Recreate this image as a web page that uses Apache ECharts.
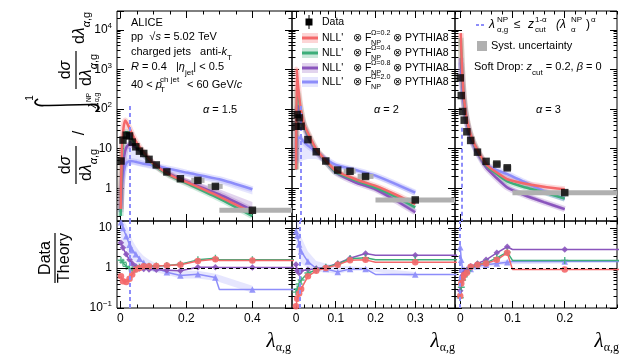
<!DOCTYPE html>
<html>
<head>
<meta charset="utf-8">
<script src="https://cdn.jsdelivr.net/npm/echarts@6/dist/echarts.min.js"></script>
<style>
html, body { margin: 0; padding: 0; background: #fff; }
#chart { width: 630px; height: 361px; }
</style>
</head>
<body>
<div id="chart"></div>
<script>
// ---------- data: alpha = 1.5 ----------
var xData15 = [0.002, 0.008, 0.018, 0.028, 0.036, 0.047, 0.058, 0.071, 0.087, 0.109, 0.141, 0.182, 0.235, 0.288, 0.4];
var yData15 = [4.9, 16.5, 22, 21, 14.7, 11.2, 8.7, 7.6, 5.4, 3.9, 2.6, 1.75, 1.59, 1.12, 0.28];
var xTh15 = [0.001, 0.005, 0.01, 0.015, 0.02, 0.03, 0.04, 0.05, 0.07, 0.1, 0.15, 0.2, 0.3, 0.4];
var red15 = [0.3, 10, 35, 52, 45, 30, 20, 14, 8.2, 4.2, 2.2, 1.45, 0.62, 0.24];
var green15 = [0.2, 6, 20, 26, 26, 22, 16, 12, 7.5, 4.0, 2.1, 1.35, 0.55, 0.2];
var purple15 = [0.25, 1.5, 5, 9, 11.5, 12.8, 12, 10.5, 7.2, 4.2, 2.3, 1.5, 0.7, 0.28];
var blue15 = [0.3, 1.2, 2.5, 3.8, 4.5, 4.9, 4.8, 4.6, 4.2, 3.8, 3.1, 2.5, 1.7, 0.95];
var blueLo15 = [0.2, 0.9, 1.8, 2.8, 3.4, 3.9, 3.9, 3.7, 3.4, 3.0, 2.5, 1.95, 1.3, 0.7];
var blueHi15 = [0.4, 2.5, 6, 9, 10.5, 11, 10, 8.5, 6.5, 4.5, 3.3, 2.6, 1.75, 1.0];
var purpleLo15 = [0.2, 1.2, 4, 7.5, 9.5, 10.8, 10.5, 9.5, 6.6, 3.9, 2.1, 1.35, 0.6, 0.24];
var purpleHi15 = [0.3, 2, 6, 11, 14, 15, 14, 12, 8, 4.6, 2.6, 1.75, 0.95, 0.45];
var ratioRed15 = [0.62, 0.47, 0.45, 0.54, 0.69, 0.92, 1.0, 1.1, 1.1, 1.12, 1.15, 1.2, 1.5, 1.65, 1.55];
var ratioGreen15 = [1.57, 1.4, 1.1, 0.97, 0.9, 0.95, 1.05, 1.1, 1.1, 1.12, 1.15, 1.25, 1.6, 1.75, 1.6];
var ratioPurple15 = [4.3, 3.2, 2.2, 1.6, 1.3, 1.1, 0.97, 0.95, 0.92, 0.9, 0.88, 0.85, 1.05, 1.05, 1.03];
var ratioBlue15 = [14, 10, 6.2, 3.8, 2.8, 2.2, 1.7, 1.35, 1.1, 1.0, 0.78, 0.65, 0.7, 0.58, 0.29];
var ratioBlueLo15 = [6, 4, 3, 2, 1.6, 1.4, 1.2, 1.0, 0.85, 0.78, 0.68, 0.55, 0.55, 0.48, 0.24];
var ratioBlueHi15 = [16, 16, 12, 8, 5, 3.5, 2.6, 2, 1.6, 1.3, 1.0, 0.85, 0.85, 0.72, 0.36];
var sysX0_15 = [0.215, 0.265, 0.3];
var sysX1_15 = [0.255, 0.31, 0.6];
var sysY15 = [1.59, 1.12, 0.28];

// ---------- data: alpha = 2 ----------
var xData2 = [0.0, 0.003, 0.008, 0.013, 0.03, 0.051, 0.075, 0.105, 0.136, 0.175, 0.30];
var yData2 = [37, 73, 60, 37, 17, 8.4, 4.9, 2.9, 2.7, 2.0, 0.51];
var xTh2 = [0.0005, 0.002, 0.005, 0.01, 0.015, 0.02, 0.03, 0.05, 0.075, 0.1, 0.15, 0.2, 0.25, 0.3];
var red2 = [3, 1000, 420, 140, 70, 42, 25, 10, 5.0, 2.8, 1.7, 1.15, 0.7, 0.4];
var green2 = [3, 300, 250, 120, 65, 40, 23, 9.5, 4.8, 2.6, 1.6, 1.05, 0.62, 0.33];
var purple2 = [5, 100, 120, 80, 55, 38, 20, 8.7, 4.7, 2.5, 1.4, 0.95, 0.5, 0.25];
var blue2 = [4.5, 12, 19, 19, 17, 15, 12, 8.5, 5.5, 3.9, 2.9, 2.1, 1.3, 0.78];
var blueLo2 = [2, 3, 4, 4.5, 5, 5.2, 5.5, 5.5, 4.5, 3.4, 2.5, 1.8, 1.1, 0.65];
var blueHi2 = [6, 15, 22, 22, 20, 18, 14, 9.5, 6.2, 4.3, 3.2, 2.3, 1.45, 0.9];
var purpleLo2 = [4, 80, 100, 70, 48, 33, 17.5, 7.8, 4.3, 2.3, 1.3, 0.85, 0.45, 0.22];
var purpleHi2 = [6, 120, 140, 92, 62, 43, 23, 9.8, 5.2, 2.8, 1.6, 1.1, 0.6, 0.32];
var ratioRed2 = [0.11, 0.17, 0.23, 0.3, 0.62, 0.85, 1.0, 1.2, 1.57, 1.6, 1.4];
var ratioGreen2 = [0.25, 0.3, 0.4, 0.5, 0.75, 0.9, 1.05, 1.25, 1.7, 1.8, 1.6];
var ratioPurple2 = [1.22, 0.85, 0.75, 0.85, 0.9, 0.97, 1.05, 1.3, 1.75, 2.3, 2.1];
var ratioBlue2 = [8.3, 6.5, 3.9, 2.6, 1.45, 0.97, 0.95, 0.8, 0.95, 0.95, 0.69];
var ratioBlueLo2 = [4, 3, 2, 1.3, 1.0, 0.8, 0.8, 0.7, 0.85, 0.85, 0.6];
var ratioBlueHi2 = [16, 16, 12, 6, 2.6, 1.5, 1.3, 1.1, 1.1, 1.05, 0.8];
var sysX0_2 = [0.12, 0.155, 0.2];
var sysX1_2 = [0.15, 0.195, 0.45];
var sysY2 = [2.7, 2.0, 0.51];

// ---------- data: alpha = 3 ----------
var xData3 = [0.0, 0.002, 0.0045, 0.0076, 0.0127, 0.020, 0.033, 0.0495, 0.07, 0.09, 0.2];
var yData3 = [615, 220, 87, 52.6, 26.8, 16.2, 8.2, 4.8, 4.1, 3.3, 0.78];
var xTh3 = [0.001, 0.003, 0.006, 0.01, 0.015, 0.02, 0.03, 0.05, 0.07, 0.09, 0.12, 0.16, 0.2];
var red3 = [8300, 1500, 300, 90, 40, 23, 11, 4.0, 2.5, 1.7, 1.35, 1.1, 0.95];
var green3 = [6300, 1300, 280, 85, 38, 22, 10.5, 3.8, 2.3, 1.5, 1.1, 0.8, 0.55];
var purple3 = [1950, 700, 200, 75, 33, 19, 9.5, 3.3, 1.8, 1.05, 0.7, 0.45, 0.3];
var blue3 = [1500, 600, 180, 70, 34, 19, 9.5, 4.0, 2.9, 2.3, 1.5, 0.85, 0.55];
var blueLo3 = [1300, 520, 160, 63, 30, 17, 8.5, 3.4, 2.3, 1.7, 1.15, 0.7, 0.47];
var blueHi3 = [1700, 680, 200, 77, 38, 21, 10.5, 4.3, 3.1, 2.5, 1.65, 0.95, 0.62];
var purpleLo3 = [1700, 620, 180, 68, 30, 17, 8.6, 3.0, 1.6, 0.95, 0.63, 0.41, 0.27];
var purpleHi3 = [2200, 780, 220, 82, 36, 21, 10.5, 3.6, 2.0, 1.2, 0.8, 0.5, 0.33];
var ratioRed3 = [0.2, 0.41, 0.55, 0.67, 0.76, 1.07, 1.2, 1.3, 1.6, 2.4, 0.92];
var ratioGreen3 = [0.18, 0.33, 0.5, 0.6, 0.75, 1.0, 1.2, 1.35, 1.8, 2.5, 1.55];
var ratioPurple3 = [0.27, 0.5, 0.65, 0.75, 0.9, 1.1, 1.3, 1.6, 2.4, 3.4, 2.9];
var ratioBlue3 = [3.3, 1.6, 0.95, 0.9, 0.85, 0.95, 1.1, 1.2, 1.3, 1.4, 1.45];
var ratioBlueLo3 = [2.0, 1.1, 0.8, 0.78, 0.75, 0.85, 0.95, 1.05, 1.15, 1.25, 1.3];
var ratioBlueHi3 = [5.0, 2.2, 1.2, 1.05, 1.0, 1.1, 1.25, 1.35, 1.45, 1.6, 1.6];
var sysX0_3 = [0.062, 0.082, 0.1];
var sysX1_3 = [0.078, 0.098, 0.35];
var sysY3 = [4.1, 3.3, 0.78];

// NP cut (vertical dashed lines), last bin edges, labels
var npCut = [0.03, 0.013, 0.003];
var npTop = [120, 120, 34];
var lastBinLo = [0.3, 0.2, 0.1];
var lastBinHi = [0.6, 0.45, 0.35];
var alphaLabels = ['1.5', '2', '3'];
var xLabelTicks = [[0, 0.2, 0.4], [0, 0.1, 0.2, 0.3], [0, 0.1, 0.2]];
var xMinorStep = [0.05, 0.02, 0.02];
var omegaLabels = ['0.2', '0.4', '0.8', '2.0'];

var panels = [
  {xd: xData15, yd: yData15, xt: xTh15, th: [red15, green15, purple15, blue15],
   bLo: blueLo15, bHi: blueHi15, pLo: purpleLo15, pHi: purpleHi15,
   ratio: [ratioRed15, ratioGreen15, ratioPurple15, ratioBlue15], rLo: ratioBlueLo15, rHi: ratioBlueHi15,
   sx0: sysX0_15, sx1: sysX1_15, sy: sysY15},
  {xd: xData2, yd: yData2, xt: xTh2, th: [red2, green2, purple2, blue2],
   bLo: blueLo2, bHi: blueHi2, pLo: purpleLo2, pHi: purpleHi2,
   ratio: [ratioRed2, ratioGreen2, ratioPurple2, ratioBlue2], rLo: ratioBlueLo2, rHi: ratioBlueHi2,
   sx0: sysX0_2, sx1: sysX1_2, sy: sysY2},
  {xd: xData3, yd: yData3, xt: xTh3, th: [red3, green3, purple3, blue3],
   bLo: blueLo3, bHi: blueHi3, pLo: purpleLo3, pHi: purpleHi3,
   ratio: [ratioRed3, ratioGreen3, ratioPurple3, ratioBlue3], rLo: ratioBlueLo3, rHi: ratioBlueHi3,
   sx0: sysX0_3, sx1: sysX1_3, sy: sysY3}
];

// ---------- layout / style ----------
var FONT = "'Liberation Sans', Arial, sans-serif";
var SERIF = "'Liberation Serif', 'DejaVu Serif', serif";
var colors = ['#f4686a', '#3dae7a', '#8a55bd', '#8d8dfa'];
var bands = ['rgba(244,104,106,0.28)', 'rgba(61,174,122,0.28)', 'rgba(138,85,189,0.25)', 'rgba(141,141,250,0.22)'];
var ratioSymbols = ['circle', 'path://M4,0H6V4H10V6H6V10H4V6H0V4H4Z', 'diamond', 'triangle'];
var panelLeft = [117, 292, 455];
var panelWidth = [175, 163, 162];
var xMin = [-0.01, -0.01, -0.01];
var xMax = [0.52, 0.40, 0.30];
var topY = 11, topH = 210, botY = 221, botH = 87;
var yTop = [0.15, 30000], yBot = [0.1, 15];

var myChart = echarts.init(document.getElementById('chart'));

function powLabel(v) {
  var l = Math.log10(v);
  var e = Math.round(l);
  if (Math.abs(l - e) > 1e-6) return '';
  if (e === 0) return '1';
  if (e === 1) return '10';
  return '{b|10}{e|' + (e < 0 ? '\u2212' + (-e) : e) + '}';
}

function minorLogTicks(lo, hi) {
  var out = [];
  for (var k = -2; k <= 5; k++) {
    for (var m = 2; m <= 9; m++) {
      var v = Math.log10(m * Math.pow(10, k));
      if (v > Math.log10(lo) && v < Math.log10(hi)) out.push(v);
    }
  }
  return out;
}

var grids = [], xAxes = [], yAxes = [];
function addGrid(p, isTop) {
  var g = grids.length;
  grids.push({left: panelLeft[p], width: panelWidth[p], top: isTop ? topY : botY, height: isTop ? topH : botH,
    show: true, borderColor: '#000', borderWidth: 1, backgroundColor: 'transparent'});
  var minor = [];
  for (var v = 0; v <= xMax[p] + 1e-9; v += xMinorStep[p]) minor.push(+v.toFixed(3));
  var major = xLabelTicks[p];
  var xb = {type: 'value', gridIndex: g, min: xMin[p], max: xMax[p], splitLine: {show: false},
    axisLine: {show: false, onZero: false}};
  xAxes.push(Object.assign({}, xb, {position: 'bottom',
    axisTick: {inside: true, length: 7, customValues: major, lineStyle: {color: '#000'}},
    axisLabel: {show: !isTop, customValues: major, margin: 5, fontSize: 12, color: '#000', fontFamily: FONT,
      formatter: function (val) { return String(+val.toFixed(2)); }}}));
  xAxes.push(Object.assign({}, xb, {position: 'bottom',
    axisTick: {inside: true, length: 3.5, customValues: minor, lineStyle: {color: '#000'}}, axisLabel: {show: false}}));
  xAxes.push(Object.assign({}, xb, {position: 'top',
    axisTick: {inside: true, length: 7, customValues: major, lineStyle: {color: '#000'}}, axisLabel: {show: false}}));
  xAxes.push(Object.assign({}, xb, {position: 'top',
    axisTick: {inside: true, length: 3.5, customValues: minor, lineStyle: {color: '#000'}}, axisLabel: {show: false}}));

  var yr = isTop ? yTop : yBot;
  var yl = {type: 'log', gridIndex: g, min: yr[0], max: yr[1], splitLine: {show: false},
    axisLine: {show: false, onZero: false}, minorTick: {show: false}};
  var ym = {type: 'value', gridIndex: g, min: Math.log10(yr[0]), max: Math.log10(yr[1]), splitLine: {show: false},
    axisLine: {show: false, onZero: false}, axisLabel: {show: false},
    axisTick: {inside: true, length: 3.5, customValues: minorLogTicks(yr[0], yr[1]), lineStyle: {color: '#000'}}};
  yAxes.push(Object.assign({}, yl, {position: 'left',
    axisTick: {inside: true, length: 7, lineStyle: {color: '#000'}},
    axisLabel: {show: p === 0, margin: 5, color: '#000', fontSize: 12, fontFamily: FONT, formatter: powLabel,
      rich: {b: {fontSize: 12, lineHeight: 16, fontFamily: FONT, color: '#000'},
             e: {fontSize: 8, lineHeight: 8, verticalAlign: 'top', fontFamily: FONT, color: '#000'}}}}));
  yAxes.push(Object.assign({}, ym, {position: 'left'}));
  yAxes.push(Object.assign({}, yl, {position: 'right', axisTick: {inside: true, length: 7, lineStyle: {color: '#000'}},
    axisLabel: {show: false}}));
  yAxes.push(Object.assign({}, ym, {position: 'right'}));
  return g * 4;
}

function bandSeries(ai, xs, lo, hi, color, z) {
  return {
    type: 'custom', xAxisIndex: ai, yAxisIndex: ai, clip: true, silent: true, z: z,
    data: [[xs[0], lo[0]]],
    renderItem: function (params, api) {
      var pts = [];
      for (var i = 0; i < xs.length; i++) pts.push(api.coord([xs[i], hi[i]]));
      for (var j = xs.length - 1; j >= 0; j--) pts.push(api.coord([xs[j], lo[j]]));
      return {type: 'polygon', shape: {points: pts}, style: {fill: color}};
    }
  };
}

function zip(xs, ys) { return xs.map(function (v, i) { return [v, ys[i]]; }); }

var series = [];
panels.forEach(function (d, p) {
  var at = addGrid(p, true);
  series.push(bandSeries(at, d.xt, d.bLo, d.bHi, bands[3], 1));
  series.push(bandSeries(at, d.xt, d.pLo, d.pHi, bands[2], 1));
  [3, 2, 1, 0].forEach(function (c) {
    series.push({type: 'line', xAxisIndex: at, yAxisIndex: at, data: zip(d.xt, d.th[c]), showSymbol: false,
      smooth: 0.2, silent: true, z: 2, lineStyle: {color: colors[c], width: 6, opacity: 0.25}});
  });
  [3, 2, 1, 0].forEach(function (c) {
    series.push({type: 'line', xAxisIndex: at, yAxisIndex: at, data: zip(d.xt, d.th[c]), showSymbol: false,
      smooth: 0.2, silent: true, z: 3, lineStyle: {color: colors[c], width: 2.5}});
  });
  series.push({
    type: 'custom', xAxisIndex: at, yAxisIndex: at, clip: true, silent: true, z: 4,
    data: d.sx0.map(function (v, i) { return [v, d.sx1[i], d.sy[i]]; }),
    encode: {x: [0, 1], y: 2},
    renderItem: function (params, api) {
      var a = api.coord([api.value(0), api.value(2)]);
      var b = api.coord([api.value(1), api.value(2)]);
      return {type: 'rect', shape: {x: a[0], y: a[1] - 2.5, width: b[0] - a[0], height: 5}, style: {fill: '#b0b0b0'}};
    }
  });
  series.push({type: 'scatter', xAxisIndex: at, yAxisIndex: at, data: zip(d.xd, d.yd), symbol: 'rect',
    symbolSize: 7.5, itemStyle: {color: '#000'}, z: 6, silent: true,
    markLine: {silent: true, symbol: ['none', 'none'], label: {show: false},
      lineStyle: {color: colors[3], width: 2, type: [4, 3]},
      data: [[{coord: [npCut[p], npTop[p]]}, {coord: [npCut[p], yTop[0]]}]]}});
});
panels.forEach(function (d, p) {
  var ab = addGrid(p, false);
  series.push(bandSeries(ab, d.xd, d.rLo, d.rHi, bands[3], 1));
  [3, 2, 1, 0].forEach(function (c) {
    var r = d.ratio[c];
    var n = r.length;
    var pts = zip(d.xd, r).slice(0, n - 1);
    pts.push([lastBinLo[p], r[n - 1]], [d.xd[n - 1], r[n - 1]], [lastBinHi[p], r[n - 1]]);
    series.push({type: 'line', xAxisIndex: ab, yAxisIndex: ab, data: pts, showSymbol: false, silent: true, z: 3,
      lineStyle: {color: colors[c], width: 1.5}});
    series.push({type: 'scatter', xAxisIndex: ab, yAxisIndex: ab, data: zip(d.xd, r), symbol: ratioSymbols[c],
      symbolSize: c === 1 ? 7 : 6.5, itemStyle: {color: colors[c], opacity: 0.9}, z: 4, silent: true});
  });
  series.push({type: 'line', xAxisIndex: ab, yAxisIndex: ab, data: [], silent: true, z: 5,
    markLine: {silent: true, symbol: ['none', 'none'], label: {show: false},
      data: [
        {yAxis: 1, lineStyle: {color: '#000', width: 1, type: [4, 3]}},
        {xAxis: npCut[p], lineStyle: {color: colors[3], width: 2, type: [4, 3]}}
      ]}});
});

// ---------- texts ----------
function rich(s) {
  var ss = Math.round(s * 0.7);
  return {
    n: {fontSize: s, lineHeight: s + 8, fontFamily: FONT, color: '#000'},
    i: {fontSize: s, lineHeight: s + 8, fontFamily: FONT, fontStyle: 'italic', color: '#000'},
    sb: {fontSize: ss, lineHeight: ss, verticalAlign: 'bottom', fontFamily: FONT, color: '#000'},
    sbi: {fontSize: ss, lineHeight: ss, verticalAlign: 'bottom', fontFamily: FONT, fontStyle: 'italic', color: '#000'},
    sp: {fontSize: ss, lineHeight: ss, verticalAlign: 'top', fontFamily: FONT, color: '#000'}
  };
}
function T(x, y, text, size, align, italic) {
  size = size || 11;
  return {type: 'text', x: x, y: y, silent: true, z: 100,
    style: {text: text, fontSize: size, fontFamily: FONT, fontStyle: italic ? 'italic' : 'normal', fill: '#000',
      align: align || 'left', verticalAlign: 'middle', rich: rich(size)}};
}

var graphics = [];
// panel 1 caption
graphics.push(T(131, 23, 'ALICE'));
graphics.push(T(131, 37, '{n|pp  \u221A}{i|s}{n| = 5.02 TeV}'));
graphics.push(T(131, 52, '{n|charged jets   anti-}{i|k}{sb|T}'));
graphics.push(T(131, 67, '{i|R}{n| = 0.4   |}{i|\u03B7}{sb|jet}{n|| < 0.5}'));
graphics.push(T(131, 85, '{n|40 < }{i|p}'));
graphics.push(T(160, 80, 'ch jet', 8));
graphics.push(T(160, 90, 'T', 8));
graphics.push(T(187, 85, '{n|< 60 GeV/}{i|c}'));
// alpha labels
var alphaX = [203, 374, 536];
alphaLabels.forEach(function (a, p) {
  graphics.push(T(alphaX[p], 110, '{i|\u03B1}{n| = ' + a + '}'));
});
// legend panel 2
graphics.push({type: 'rect', shape: {x: 305.5, y: 18.5, width: 7, height: 7}, style: {fill: '#000'}, z: 100});
graphics.push({type: 'line', shape: {x1: 309, y1: 15, x2: 309, y2: 29}, style: {stroke: '#000', lineWidth: 1}, z: 100});
graphics.push(T(322, 22, 'Data', 10.5));
var legY = [38, 53, 68, 82];
legY.forEach(function (y, c) {
  graphics.push({type: 'rect', shape: {x: 302, y: y - 5, width: 16, height: 10}, style: {fill: bands[c]}, z: 100});
  graphics.push({type: 'line', shape: {x1: 302, y1: y, x2: 318, y2: y}, style: {stroke: colors[c], lineWidth: 3}, z: 100});
  graphics.push(T(322, y, "NLL'", 10.5));
  graphics.push(T(353, y, '\u2297', 10.5));
  graphics.push(T(365, y, 'F', 10.5));
  graphics.push(T(371, y - 5, '\u03A9=' + omegaLabels[c], 7.2));
  graphics.push(T(371, y + 5, 'NP', 7.2));
  graphics.push(T(393, y, '\u2297 PYTHIA8', 10.5));
});
// legend panel 3
graphics.push({type: 'line', shape: {x1: 476, y1: 25, x2: 486, y2: 25}, style: {stroke: colors[3], lineWidth: 2, lineDash: [3, 2]}, z: 100});
graphics.push(T(489, 25, '\u03BB', 12, 'left', true));
graphics.push(T(497, 20, 'NP', 8));
graphics.push(T(497, 30, '\u03B1,g', 8));
graphics.push(T(514, 25, '\u2264', 12));
graphics.push(T(528, 25, 'z', 12, 'left', true));
graphics.push(T(535, 20, '1-\u03B1', 8));
graphics.push(T(535, 30, 'cut', 8));
graphics.push(T(556, 25, '(\u03BB', 12, 'left', true));
graphics.push(T(571, 20, 'NP', 8));
graphics.push(T(571, 30, '\u03B1', 8));
graphics.push(T(586, 25, ')', 12));
graphics.push(T(591, 20, '\u03B1', 8));
graphics.push({type: 'rect', shape: {x: 477, y: 41, width: 10, height: 10}, style: {fill: '#b0b0b0'}, z: 100});
graphics.push(T(491, 46, 'Syst. uncertainty'));
graphics.push(T(474, 67, '{n|Soft Drop: }{i|z}{sb|cut}{n| = 0.2, }{i|\u03B2}{n| = 0}'));

// x-axis titles
var axRight = [291, 455, 619];
axRight.forEach(function (x) {
  graphics.push({type: 'text', x: x, y: 341, silent: true,
    style: {text: '{l|\u03BB}{s|\u03B1,g}', align: 'right', verticalAlign: 'middle', fill: '#000',
      rich: {l: {fontSize: 21, lineHeight: 26, fontFamily: SERIF, fontStyle: 'italic', color: '#000'},
             s: {fontSize: 12, lineHeight: 12, verticalAlign: 'bottom', fontFamily: SERIF, color: '#000'}}}});
});

// y-axis titles (rotated)
function frac(u, v, num, den, size, barLen, gap) {
  return [
    T(u, v - gap, num, size, 'center'),
    {type: 'line', shape: {x1: u - barLen / 2, y1: v, x2: u + barLen / 2, y2: v}, style: {stroke: '#000', lineWidth: 1.2}},
    T(u, v + gap + 1, den, size, 'center')
  ];
}
var dl = '{n|d}{i|\u03BB}{sbi|\u03B1}{sb|,g}';
var topTitle = [].concat(
  frac(35, 0, '{n|d}{i|\u03C3}', dl, 16, 38, 10),
  [T(67, 4, '/', 16, 'center')],
  [{type: 'polyline', shape: {smooth: 0.4,
    points: [[101, -38], [98, -41], [95, -38], [94.5, -32], [95.5, 14], [95, 20], [92, 23], [89, 20]]},
    style: {stroke: '#000', lineWidth: 1.7, fill: null}}],
  [T(102, -46, '1', 10, 'center')],
  [T(92, 17, '\u03BB', 10, 'left', true), T(98, 13, 'NP', 6.5), T(98, 21, '\u03B1,g', 6.5)],
  frac(130, 0, '{n|d}{i|\u03C3}', dl, 16, 38, 10),
  [T(172, 4, dl, 16, 'center')]
);
graphics.push({type: 'group', x: 76, y: 200, rotation: Math.PI / 2, children: topTitle});
graphics.push({type: 'group', x: 55, y: 258, rotation: Math.PI / 2,
  children: frac(0, 0, 'Data', 'Theory', 16, 50, 9)});

var option = {
  animation: false,
  backgroundColor: '#fff',
  grid: grids,
  xAxis: xAxes,
  yAxis: yAxes,
  series: series,
  graphic: graphics
};
myChart.setOption(option);
</script>
</body>
</html>
